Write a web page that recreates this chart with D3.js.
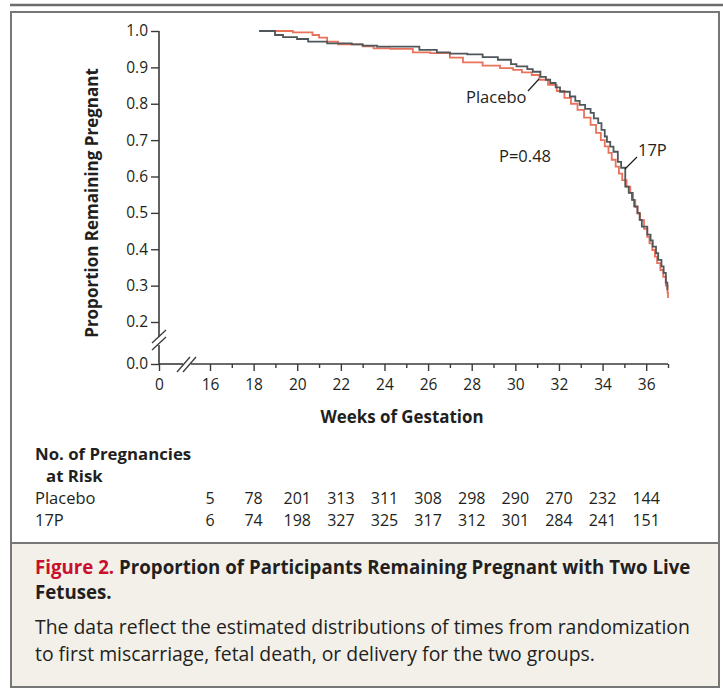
<!DOCTYPE html>
<html>
<head>
<meta charset="utf-8">
<script src="https://cdn.jsdelivr.net/npm/d3@7"></script>
<style>
  body { margin: 0; background: #fff; }
  svg text { font-family: "Open Sans", "Noto Sans", sans-serif; fill: #231f20; }
</style>
</head>
<body>
<div id="chart"></div>
<script>
// Kaplan-Meier steps: [week, proportion]
var weeks17P = [18.25, 18.98, 19.35, 19.99, 20.5, 21.37, 22.5, 23.0, 23.66, 25.6, 26.4, 27.0, 27.8, 28.5, 29.2, 29.8,
    30.05, 30.55, 30.8, 31.15, 31.4, 31.6, 31.85, 32.05, 32.5, 32.75, 32.95, 33.2, 33.45, 33.6, 33.8, 33.95, 34.1, 34.2,
    34.35, 34.5, 34.7, 34.85, 35.04, 35.2, 35.35, 35.45, 35.6, 35.7, 35.8, 36.05, 36.2, 36.3, 36.45, 36.55, 36.7, 36.8,
    36.9, 36.97, 37.0];
var prop17P = [1.000, 0.989, 0.983, 0.978, 0.971, 0.966, 0.963, 0.960, 0.957, 0.948, 0.941, 0.938, 0.936, 0.928, 0.921, 0.909,
    0.903, 0.895, 0.888, 0.874, 0.866, 0.857, 0.845, 0.833, 0.820, 0.808, 0.797, 0.786, 0.775, 0.760, 0.747, 0.728, 0.710, 0.695,
    0.682, 0.668, 0.640, 0.624, 0.572, 0.555, 0.536, 0.518, 0.500, 0.481, 0.462, 0.440, 0.424, 0.407, 0.389, 0.371, 0.353, 0.335,
    0.308, 0.290, 0.290];

var weeksPlacebo = [18.98, 19.8, 20.7, 21.0, 21.37, 21.87, 23.0, 23.5, 24.26, 25.3, 26.1, 27.0, 27.6, 28.5, 29.3, 29.9, 30.3,
    30.75, 31.1, 31.5, 31.9, 32.25, 32.55, 32.85, 33.15, 33.45, 33.7, 33.92, 34.1, 34.27, 34.42, 34.6, 34.75, 34.9, 35.1, 35.27,
    35.4, 35.5, 35.6, 35.72, 35.9, 36.05, 36.15, 36.28, 36.4, 36.5, 36.65, 36.78, 36.9, 36.98, 37.0];
var propPlacebo = [1.000, 0.996, 0.989, 0.982, 0.971, 0.963, 0.958, 0.952, 0.951, 0.941, 0.939, 0.927, 0.914, 0.905, 0.898, 0.893, 0.886,
    0.879, 0.866, 0.852, 0.835, 0.816, 0.800, 0.783, 0.762, 0.742, 0.720, 0.700, 0.683, 0.665, 0.646, 0.627, 0.608, 0.590, 0.572, 0.555,
    0.535, 0.516, 0.498, 0.480, 0.456, 0.434, 0.416, 0.398, 0.380, 0.362, 0.343, 0.324, 0.300, 0.280, 0.266];

var yTicks = [0.0, 0.2, 0.3, 0.4, 0.5, 0.6, 0.7, 0.8, 0.9, 1.0];
var xMajor = [0, 16, 18, 20, 22, 24, 26, 28, 30, 32, 34, 36];
var xMinor = [17, 19, 21, 23, 25, 27, 29, 31, 33, 35, 37];

var riskWeeks = [16, 18, 20, 22, 24, 26, 28, 30, 32, 34, 36];
var riskPlacebo = [5, 78, 201, 313, 311, 308, 298, 290, 270, 232, 144];
var risk17P = [6, 74, 198, 327, 325, 317, 312, 301, 284, 241, 151];

var width = 723, height = 689;
var axisColor = "#3a3a3a",
    darkLine = "#4f575b",
    orangeLine = "#e9725a";

var svg = d3.select("#chart").append("svg")
    .attr("width", width)
    .attr("height", height);

// broken axes: 0 then jump to 16 weeks, 0.0 then jump to 0.2
var x = d3.scaleLinear().domain([0, 16, 37]).range([159, 210, 668]);
var y = d3.scaleLinear().domain([0, 0.2, 1]).range([364, 322, 31]);

// frame
svg.append("line").attr("x1", 10).attr("x2", width).attr("y1", 5).attr("y2", 5)
    .attr("stroke", "#6d6d6d").attr("stroke-width", 2.5);
svg.append("rect").attr("x", 11).attr("y", 543).attr("width", 708).attr("height", 144)
    .attr("fill", "#f3f0ea");
svg.append("rect").attr("x", 11).attr("y", 12).attr("width", 708).attr("height", 675)
    .attr("fill", "none").attr("stroke", "#777").attr("stroke-width", 2);
svg.append("line").attr("x1", 11).attr("x2", 719).attr("y1", 543).attr("y2", 543)
    .attr("stroke", "#777").attr("stroke-width", 2);

// y axis
var gy = svg.append("g").attr("transform", "translate(" + x(0) + ",0)")
    .call(d3.axisLeft(y).tickValues(yTicks).tickFormat(d3.format(".1f")).tickSize(8).tickPadding(3));
gy.select(".domain").remove();
gy.selectAll("line").attr("stroke", axisColor).attr("stroke-width", 1.4);
gy.selectAll("text").style("font-size", "15.5px").attr("fill", "#231f20");

// x axis
var gx = svg.append("g").attr("transform", "translate(0," + y(0) + ")")
    .call(d3.axisBottom(x).tickValues(xMajor).tickFormat(d3.format("d")).tickSize(7).tickPadding(8));
gx.select(".domain").remove();
gx.selectAll("line").attr("stroke", axisColor).attr("stroke-width", 1.4);
gx.selectAll("text").style("font-size", "15.5px").attr("fill", "#231f20");

var gxm = svg.append("g").attr("transform", "translate(0," + y(0) + ")")
    .call(d3.axisBottom(x).tickValues(xMinor).tickFormat("").tickSize(4));
gxm.select(".domain").remove();
gxm.selectAll("line").attr("stroke", axisColor).attr("stroke-width", 1.4);

// axis lines with break gaps
var ax = svg.append("g").attr("stroke", axisColor).attr("stroke-width", 1.6).attr("fill", "none");
ax.append("line").attr("x1", x(0)).attr("x2", x(0)).attr("y1", y(1)).attr("y2", 337);
ax.append("line").attr("x1", x(0)).attr("x2", x(0)).attr("y1", 345).attr("y2", y(0));
ax.append("line").attr("x1", x(0)).attr("x2", 183).attr("y1", y(0)).attr("y2", y(0));
ax.append("line").attr("x1", 191).attr("x2", x(37)).attr("y1", y(0)).attr("y2", y(0));
// break marks
var slash = svg.append("g").attr("stroke", axisColor).attr("stroke-width", 1.3);
slash.append("line").attr("x1", 152).attr("y1", 343).attr("x2", 166).attr("y2", 330);
slash.append("line").attr("x1", 152).attr("y1", 350).attr("x2", 166).attr("y2", 337);
slash.append("line").attr("x1", 177).attr("y1", 372).attr("x2", 190).attr("y2", 357);
slash.append("line").attr("x1", 183).attr("y1", 372).attr("x2", 196).attr("y2", 357);

// survival curves
var line = d3.line()
    .x(function(d) { return x(d[0]); })
    .y(function(d) { return y(d[1]); })
    .curve(d3.curveStepAfter);

var placeboData = d3.zip(weeksPlacebo, propPlacebo);
var data17P = d3.zip(weeks17P, prop17P);

svg.append("path").datum(placeboData)
    .attr("d", line).attr("fill", "none")
    .attr("stroke", orangeLine).attr("stroke-width", 1.8);
svg.append("path").datum(data17P)
    .attr("d", line).attr("fill", "none")
    .attr("stroke", darkLine).attr("stroke-width", 1.8);

// curve labels
svg.append("text").attr("x", 466).attr("y", 103).style("font-size", "16.5px").text("Placebo");
svg.append("line").attr("x1", 528).attr("y1", 91).attr("x2", 539).attr("y2", 79)
    .attr("stroke", "#231f20").attr("stroke-width", 1.2);
svg.append("text").attr("x", 499).attr("y", 162).style("font-size", "16.5px").text("P=0.48");
svg.append("text").attr("x", 638).attr("y", 156).style("font-size", "16.5px").text("17P");
svg.append("line").attr("x1", 625).attr("y1", 169).attr("x2", 637).attr("y2", 157)
    .attr("stroke", "#231f20").attr("stroke-width", 1.2);

// axis titles
svg.append("text")
    .attr("transform", "translate(98,203) rotate(-90)")
    .attr("text-anchor", "middle")
    .style("font-size", "17px").style("font-weight", "bold")
    .text("Proportion Remaining Pregnant");
svg.append("text")
    .attr("x", 402).attr("y", 423)
    .attr("text-anchor", "middle")
    .style("font-size", "16.9px").style("font-weight", "bold")
    .text("Weeks of Gestation");

// number at risk table
svg.append("text").attr("x", 35).attr("y", 460)
    .style("font-size", "16.8px").style("font-weight", "bold").text("No. of Pregnancies");
svg.append("text").attr("x", 46).attr("y", 482)
    .style("font-size", "16.8px").style("font-weight", "bold").text("at Risk");

var rows = [["Placebo", riskPlacebo, 504], ["17P", risk17P, 526]];
rows.forEach(function(r) {
    svg.append("text").attr("x", 35).attr("y", r[2]).style("font-size", "16.5px").text(r[0]);
    svg.selectAll(null).data(r[1]).enter().append("text")
        .attr("x", function(d, i) { return x(riskWeeks[i]); })
        .attr("y", r[2])
        .attr("text-anchor", "middle")
        .style("font-size", "16px")
        .text(function(d) { return d; });
});

// caption
var cap1 = svg.append("text").attr("x", 35).attr("y", 574)
    .style("font-size", "18.7px").style("font-weight", "bold");
cap1.append("tspan").style("fill", "#c8102e").text("Figure 2. ");
cap1.append("tspan").text("Proportion of Participants Remaining Pregnant with Two Live");
svg.append("text").attr("x", 35).attr("y", 599)
    .style("font-size", "18.7px").style("font-weight", "bold").text("Fetuses.");
svg.append("text").attr("x", 35).attr("y", 634)
    .style("font-size", "19.4px").text("The data reflect the estimated distributions of times from randomization");
svg.append("text").attr("x", 35).attr("y", 661)
    .style("font-size", "19.4px").text("to first miscarriage, fetal death, or delivery for the two groups.");
</script>
</body>
</html>
